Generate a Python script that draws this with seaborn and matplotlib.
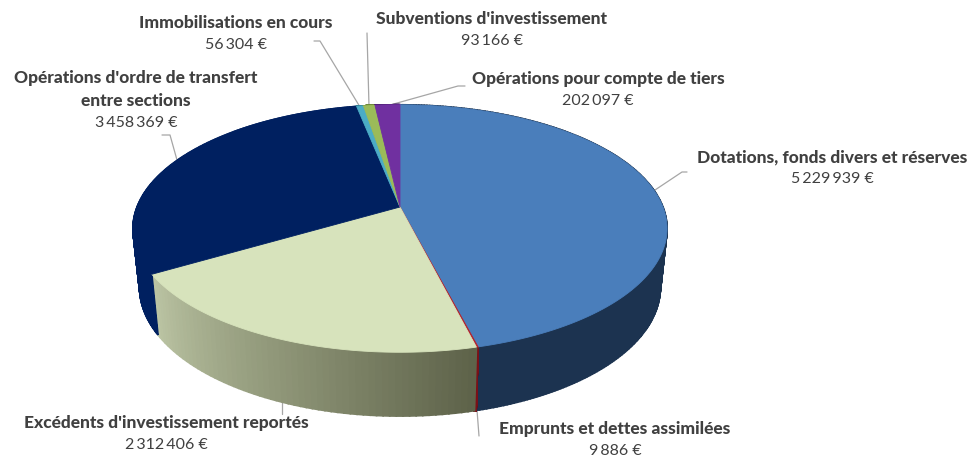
import numpy as np
import seaborn as sns
from matplotlib import pyplot as plt

# valeurs, sens horaire depuis le haut
categories = [
    "Dotations, fonds divers et réserves",
    "Emprunts et dettes assimilées",
    "Excédents d'investissement reportés",
    "Opérations d'ordre de transfert\nentre sections",
    "Immobilisations en cours",
    "Subventions d'investissement",
    "Opérations pour compte de tiers",
]
values = [5229939, 9886, 2312406, 3458369, 56304, 93166, 202097]
top_colors = ["#4a7ebb", "#b5202a", "#d7e3bc", "#002060", "#4bacc6", "#9bbb59", "#7030a0"]
wall_colors = ["#1c3350", "#7a1018", None, "#002060", "#2f7f96", "#6f8a3a", "#4b1f70"]

# position des libellés (centre x, y de la première ligne) et traits de rappel
label_pos = [(832, 157), (615, 429), (166, 423), (136, 78), (236, 23), (492, 19), (598, 79)]
leaders = [
    [(655, 190), (682, 172), (687, 172)],
    [(477, 410), (479, 436)],
    [(282, 402), (282, 414)],
    [(177, 160), (170, 135), (162, 135)],
    [(360, 107), (320, 41), (314, 41)],
    [(369, 106), (367, 33)],
    [(390, 105), (458, 86), (465, 86)],
]

# géométrie du disque en perspective
CX, CY = 400, 207
A, B, K = 263, 120, 0.174
SX, SY, DEPTH = 0.975, 1.04, 58


def rim(theta):
    u, v = np.sin(theta), np.cos(theta)
    w = 1 + K * v
    return A * u / w, B * v / w


def upper(theta):
    x, y = rim(theta)
    return CX + x, CY - y


def lower(theta):
    x, y = rim(theta)
    return CX + x * SX, CY - y * SY + DEPTH


def draw_wall(ax, t0, t1, colors):
    # bandes étroites : le flanc suit la génératrice jusqu'au bord
    cuts = np.linspace(t0, t1, len(colors) + 1)
    for j, color in enumerate(colors):
        t = cuts[j:j + 2]
        ux, uy = upper(t)
        lx, ly = lower(t)
        ax.fill(np.r_[ux, lx[::-1]], np.r_[uy, ly[::-1]], color=color, lw=1.2, zorder=2)


sns.set_theme(style="white")
plt.rcParams['font.family'] = ['Lato', 'DejaVu Sans']

fig = plt.figure(figsize=(9.67, 4.57), dpi=100)
ax = fig.add_axes([0, 0, 1, 1])
ax.set_xlim(0, 967)
ax.set_ylim(457, 0)
ax.axis('off')

edges = np.r_[0, np.cumsum(values)] / np.sum(values) * 2 * np.pi
gradient = sns.blend_palette(["#bcc5a4", "#8f9678", "#5e634a"], 60)

# les flancs d'abord, le dessus les recouvre
for i, color in enumerate(wall_colors):
    if color is None:
        draw_wall(ax, edges[i + 1], edges[i], gradient)
    else:
        draw_wall(ax, edges[i], edges[i + 1], [color] * 240)

for i, color in enumerate(top_colors):
    x, y = upper(np.linspace(edges[i], edges[i + 1], 120))
    ax.fill(np.r_[CX, x], np.r_[CY, y], color=color, lw=0.6, zorder=3)

for points in leaders:
    xs, ys = zip(*points)
    ax.plot(xs, ys, color="#a6a6a6", lw=0.9, zorder=1)

for name, value, (x, y) in zip(categories, values, label_pos):
    for line in name.split("\n"):
        ax.text(x, y, line, ha='center', va='center', fontsize=12.5, fontweight='black', color="#404040")
        y += 23
    ax.text(x, y - 1, f"{value:,}".replace(",", "\u2009") + " €", ha='center', va='center',
            fontsize=11.5, color="#404040")

fig.savefig("out.png", dpi=100)
